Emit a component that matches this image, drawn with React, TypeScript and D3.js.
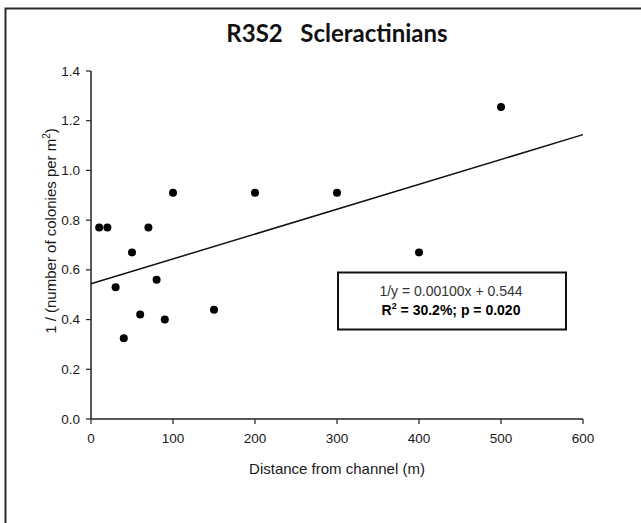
import React from "react";
import * as d3 from "d3";

const distance = [10, 20, 30, 40, 50, 60, 70, 80, 90, 100, 150, 200, 300, 400, 500];
const invDensity = [0.77, 0.77, 0.53, 0.325, 0.67, 0.42, 0.77, 0.56, 0.4, 0.91, 0.44, 0.91, 0.91, 0.67, 1.255];
const xTicks = [0, 100, 200, 300, 400, 500, 600];
const yTicks = [0, 0.2, 0.4, 0.6, 0.8, 1.0, 1.2, 1.4];
const slope = [0.001];
const intercept = [0.544];
const fitRange = [0, 600];

const W = 641;
const H = 523;
const FONT = "Liberation Sans, Arial, sans-serif";

export default function App() {
  const x = d3.scaleLinear().domain([0, 600]).range([91, 583]);
  const y = d3.scaleLinear().domain([0, 1.4]).range([419, 71]);
  const fit = d3
    .line<number>()
    .x((d) => x(d))
    .y((d) => y(slope[0] * d + intercept[0]));
  const axisColor = "#222";
  return (
    <svg
      width={W}
      height={H}
      style={{ position: "absolute", left: 0, top: 0, background: "#fff" }}
    >
      <rect x={0} y={0} width={W} height={H} fill="#fff" />
      {/* frame */}
      <path d={`M5.5,${H} L5.5,8.5 L${W},8.5`} fill="none" stroke="#2a2a2a" strokeWidth={2} />
      {/* title */}
      <text
        x={337}
        y={42}
        textAnchor="middle"
        fontFamily="Lato, 'Open Sans', sans-serif"
        fontWeight="bold"
        fontSize={24}
        fill="#111"
        style={{ whiteSpace: "pre" }}
      >
        {"R3S2   Scleractinians"}
      </text>
      {/* axes */}
      <line x1={x(0)} x2={x(600)} y1={y(0)} y2={y(0)} stroke={axisColor} strokeWidth={1.5} />
      <line x1={x(0)} x2={x(0)} y1={y(0)} y2={y(1.4)} stroke={axisColor} strokeWidth={1.5} />
      {xTicks.map((t) => (
        <g key={"x" + t}>
          <line x1={x(t)} x2={x(t)} y1={y(0)} y2={y(0) + 5} stroke={axisColor} strokeWidth={1.2} />
          <text x={x(t)} y={443} textAnchor="middle" fontFamily={FONT} fontSize={13.5} fill="#1a1a1a">
            {t}
          </text>
        </g>
      ))}
      {yTicks.map((t) => (
        <g key={"y" + t}>
          <line x1={x(0) - 5} x2={x(0)} y1={y(t)} y2={y(t)} stroke={axisColor} strokeWidth={1.2} />
          <text x={80} y={y(t) + 4.5} textAnchor="end" fontFamily={FONT} fontSize={13.5} fill="#1a1a1a">
            {d3.format(".1f")(t)}
          </text>
        </g>
      ))}
      <text x={337} y={474} textAnchor="middle" fontFamily={FONT} fontSize={15} fill="#1a1a1a">
        Distance from channel (m)
      </text>
      <text
        transform={`translate(56,${231}) rotate(-90)`}
        textAnchor="middle"
        fontFamily={FONT}
        fontSize={15}
        fill="#1a1a1a"
      >
        1 / (number of colonies per m
        <tspan fontSize={10} dy={-6}>2</tspan>
        <tspan dy={6}>)</tspan>
      </text>
      {/* regression line */}
      <path d={fit(fitRange) || ""} fill="none" stroke="#111" strokeWidth={1.5} />
      {/* points */}
      {distance.map((d, i) => (
        <circle key={i} cx={x(d)} cy={y(invDensity[i])} r={4} fill="#000" />
      ))}
      {/* equation box */}
      <rect x={338} y={272.5} width={228} height={57} fill="#fff" stroke="#111" strokeWidth={2} />
      <text x={451} y={296} textAnchor="middle" fontFamily={FONT} fontSize={14} fill="#333">
        1/y = 0.00100x + 0.544
      </text>
      <text x={451} y={315} textAnchor="middle" fontFamily={FONT} fontSize={14} fontWeight="bold" fill="#000">
        R<tspan fontSize={9} dy={-6}>2</tspan>
        <tspan dy={6}> = 30.2%; p = 0.020</tspan>
      </text>
    </svg>
  );
}
